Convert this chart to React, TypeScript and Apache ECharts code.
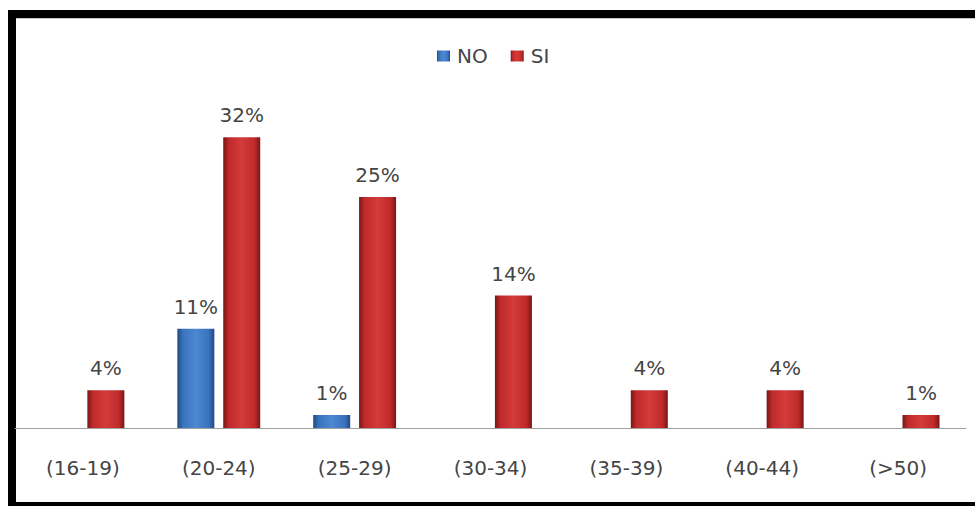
import React, { useEffect, useRef } from "react";
import * as echarts from "echarts";

const categories = ["(16-19)", "(20-24)", "(25-29)", "(30-34)", "(35-39)", "(40-44)", "(>50)"];
const seriesNames = ["NO", "SI"];
// values (labels show them rounded)
const noValues: (number | null)[] = [null, 10.8, 1.4, null, null, null, null];
const siValues: (number | null)[] = [4.1, 31.6, 25.1, 14.4, 4.1, 4.1, 1.4];

const FONT = "DejaVu Sans";
const TEXT = "#454545";

export default function App() {
  const ref = useRef<HTMLDivElement>(null);
  useEffect(() => {
    document.body.style.margin = "0";
    const chart = echarts.init(ref.current!, null, { renderer: "svg" });
    const blue = new echarts.graphic.LinearGradient(0, 0, 1, 0, [
      { offset: 0, color: "#1f4a86" },
      { offset: 0.15, color: "#3a72bd" },
      { offset: 0.5, color: "#4d88d2" },
      { offset: 0.85, color: "#3a72bd" },
      { offset: 1, color: "#1f4a86" },
    ]);
    const red = new echarts.graphic.LinearGradient(0, 0, 1, 0, [
      { offset: 0, color: "#7a1616" },
      { offset: 0.15, color: "#bf2a2a" },
      { offset: 0.5, color: "#d43b3b" },
      { offset: 0.85, color: "#bf2a2a" },
      { offset: 1, color: "#7a1616" },
    ]);
    const label = {
      show: true,
      position: "top" as const,
      distance: 12,
      fontFamily: FONT,
      fontSize: 20,
      color: TEXT,
      formatter: (p: any) => Math.round(p.value) + "%",
    };
    chart.setOption({
      animation: false,
      backgroundColor: "#ffffff",
      legend: {
        left: 432,
        top: 41,
        itemWidth: 13,
        itemHeight: 11,
        itemGap: 23,
        icon: "rect",
        textStyle: { fontFamily: FONT, fontSize: 20, color: TEXT, padding: [0, 0, 0, 2] },
        data: seriesNames,
      },
      grid: { left: 15, right: 9, top: 106, bottom: 78 },
      xAxis: {
        type: "category",
        data: categories,
        axisLine: { lineStyle: { color: "#a0a0a0", width: 1 } },
        axisTick: { show: false },
        axisLabel: { fontFamily: FONT, fontSize: 20, color: TEXT, margin: 30 },
      },
      yAxis: { type: "value", min: 0, max: 35, show: false, splitLine: { show: false } },
      series: [
        {
          name: seriesNames[0],
          type: "bar",
          data: noValues,
          barWidth: 37,
          barGap: "24%",
          itemStyle: { color: blue },
          label,
        },
        {
          name: seriesNames[1],
          type: "bar",
          data: siValues,
          barWidth: 37,
          barGap: "24%",
          itemStyle: { color: red },
          label,
        },
      ],
      graphic: [
        { type: "rect", shape: { x: 8, y: 10, width: 967, height: 8 }, style: { fill: "#000" } },
        { type: "rect", shape: { x: 16, y: 18, width: 959, height: 1 }, style: { fill: "#c8c8c8" } },
        { type: "rect", shape: { x: 8, y: 10, width: 8, height: 496 }, style: { fill: "#000" } },
        { type: "rect", shape: { x: 8, y: 502, width: 967, height: 4 }, style: { fill: "#000" } },
      ],
    });
    return () => chart.dispose();
  }, []);
  return <div ref={ref} style={{ width: 975, height: 506 }} />;
}
